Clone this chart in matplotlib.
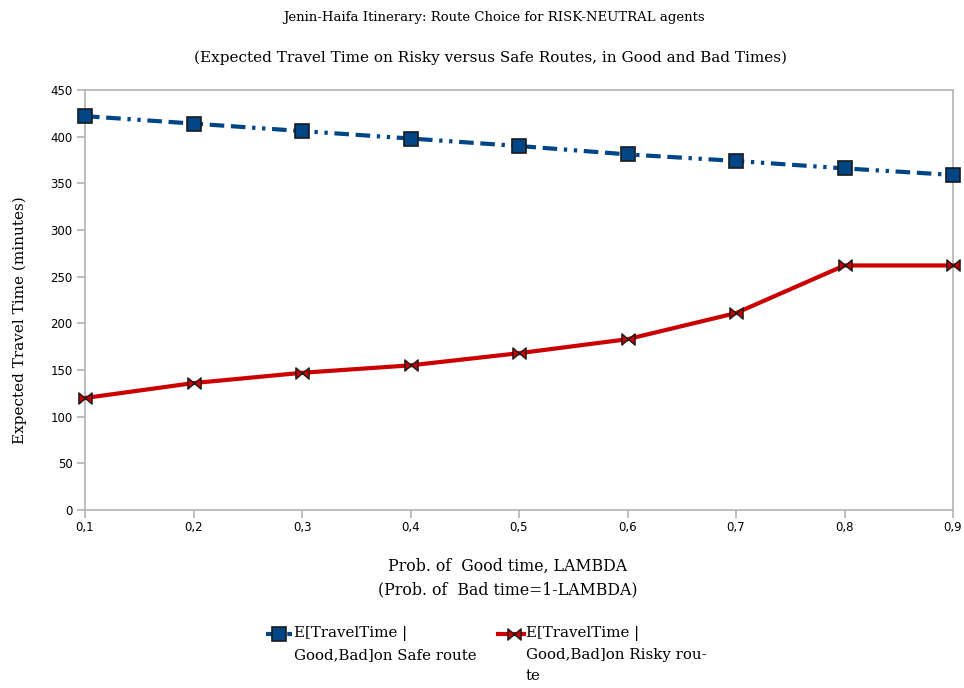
import matplotlib
matplotlib.use("Agg")
import matplotlib.pyplot as plt
from matplotlib.path import Path
from matplotlib.lines import Line2D
from matplotlib.ticker import FuncFormatter

lam = [0.1, 0.2, 0.3, 0.4, 0.5, 0.6, 0.7, 0.8, 0.9]
safe = [422, 414, 406, 398, 390, 381, 374, 366, 359]
risky = [120, 136, 147, 155, 168, 183, 211, 262, 262]
yticks = [0, 50, 100, 150, 200, 250, 300, 350, 400, 450]
safe_label = "E[TravelTime |\nGood,Bad]on Safe route"
risky_label = "E[TravelTime |\nGood,Bad]on Risky rou-\nte"

W, H = 964, 688
serif = ["DejaVu Serif"]

BLUE = "#004586"
RED = "#cc0000"
safe_style = dict(color=BLUE, lw=3, linestyle=(0, (3.5, 1.6, 3.5, 1.6, 0.8, 1.6, 0.8, 1.6)),
                  marker="s", markersize=9.5, markerfacecolor=BLUE, markeredgecolor="#1a1a1a",
                  markeredgewidth=1.2)
bowtie = Path([(-1, 0.85), (-1, -0.85), (1, 0.85), (1, -0.85), (-1, 0.85)],
              [Path.MOVETO, Path.LINETO, Path.LINETO, Path.LINETO, Path.CLOSEPOLY])
risky_style = dict(color=RED, lw=3, marker=bowtie, markersize=9.5,
                   markerfacecolor=RED, markeredgecolor="#1a1a1a", markeredgewidth=1.0)

fig = plt.figure(figsize=(W/100, H/100), dpi=100)
ax = fig.add_axes([85/W, 1-510/H, (953-85)/W, (510-90)/H])

ax.plot(lam, safe, label=safe_label, clip_on=False, zorder=3, **safe_style)
ax.plot(lam, risky, label=risky_label, clip_on=False, zorder=3, **risky_style)

ax.set_xlim(0.1, 0.9)
ax.set_ylim(0, 450)
ax.set_xticks(lam)
ax.set_yticks(yticks)
ax.xaxis.set_major_formatter(FuncFormatter(lambda v, p: f"{v:.1f}".replace(".", ",")))
for s in ax.spines.values():
    s.set_color("#b3b3b3")
    s.set_linewidth(1.2)
ax.tick_params(axis="both", colors="#b3b3b3", length=6, width=1.2, labelcolor="black",
               labelsize=8.5, direction="out")
ax.tick_params(axis="x", pad=2)
ax.tick_params(axis="y", pad=3)
for lab in ax.get_xticklabels() + ax.get_yticklabels():
    lab.set_family(["DejaVu Sans"])

fig.text(494/W, 1-17/H, "Jenin-Haifa Itinerary: Route Choice for RISK-NEUTRAL agents",
         ha="center", va="center", fontsize=9.5, family=serif)
fig.text(491/W, 1-58/H, "(Expected Travel Time on Risky versus Safe Routes, in Good and Bad Times)",
         ha="center", va="center", fontsize=11, family=serif)
fig.text(508/W, 1-566/H, "Prob. of  Good time, LAMBDA", ha="center", va="center",
         fontsize=11.3, family=serif)
fig.text(508/W, 1-590/H, "(Prob. of  Bad time=1-LAMBDA)", ha="center", va="center",
         fontsize=11.3, family=serif)
fig.text(20/W, 1-320/H, "Expected Travel Time (minutes)", ha="center", va="center",
         rotation=90, fontsize=11, family=serif)

# legend (drawn manually so handles align with the first text line)
def legend_entry(x0, x1, xm, xt, style, label):
    y = 1 - 634/H
    fig.add_artist(Line2D([x0/W, x1/W], [y, y], transform=fig.transFigure,
                          **{k: v for k, v in style.items() if not k.startswith("marker")}))
    mk = {k: v for k, v in style.items() if k.startswith("marker")}
    fig.add_artist(Line2D([xm/W], [y], transform=fig.transFigure, linestyle="none", **mk))
    fig.text(xt/W, 1-626/H, label, ha="left", va="top", fontsize=10.8, family=serif,
             linespacing=1.62)

legend_entry(266, 292, 279, 294, safe_style, safe_label)
legend_entry(498, 524, 514, 526, risky_style, risky_label)

fig.savefig("out.png", dpi=100)
